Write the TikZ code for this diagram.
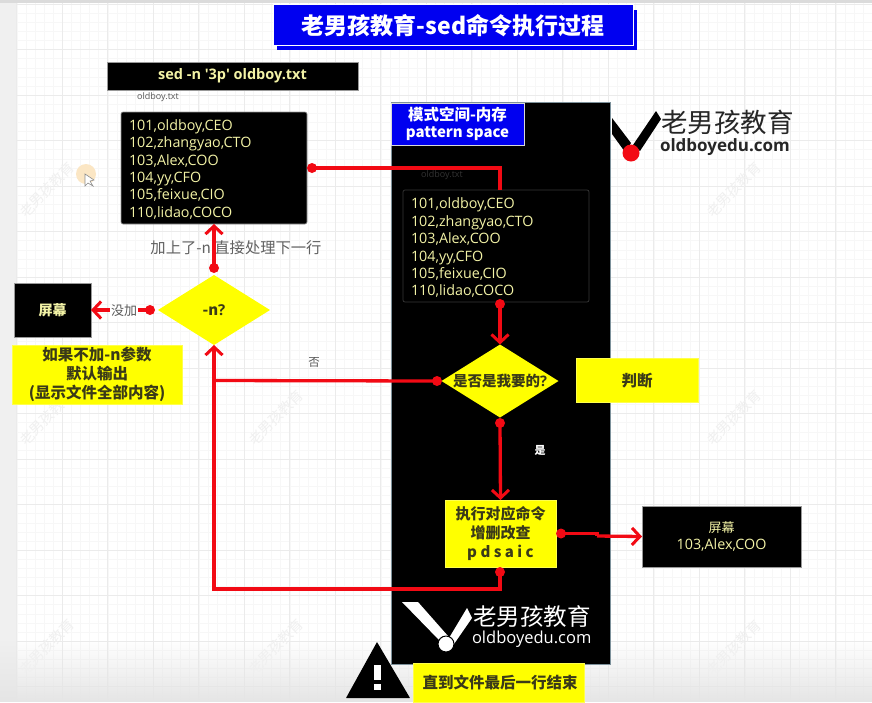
\documentclass[tikz,border=0pt]{standalone}
\usepackage{fontspec}
\setmainfont{Noto Sans CJK SC}
\newfontfamily\cjkf{Noto Sans CJK SC}
\newfontfamily\latinf{Open Sans}
\usetikzlibrary{shapes.geometric,arrows.meta,calc,fadings}
\definecolor{softy}{HTML}{F3F3A6}
\definecolor{inky}{HTML}{3A3A18}
\definecolor{redl}{HTML}{F20A14}
\definecolor{bluep}{HTML}{0000F0}
\definecolor{puryellow}{HTML}{FFFF00}
\definecolor{softorange}{HTML}{FBE6C4}
\tikzset{
  x=1pt,y=-1pt,
  every node/.style={inner sep=0pt,outer sep=0pt},
  blackbox/.style={draw=#1,line width=0.6pt,fill=black,text=softy,align=center,anchor=north west},
  blackbox/.default=gray!80,
  yellowbox/.style={draw=puryellow!70!white,line width=0.6pt,fill=puryellow,text=inky,font=\bfseries\fontsize{15.5}{19}\selectfont,align=center,anchor=north west},
  listtext/.style={text=softy,align=left,anchor=north west,font=\latinf\fontsize{14.3}{17.4}\selectfont},
  choice/.style={diamond,fill=puryellow,aspect=1.6},
  reddot/.style={circle,fill=redl,minimum size=10pt},
  link/.style={draw=redl,line width=3.3pt},
  arrowlink/.style={link,-{Straight Barb[length=8pt,width=17pt,line width=3pt]}},
  wmark/.style={rotate=45,text=black!6,font=\fontsize{14}{14}\selectfont},
  glabel/.style={text=black!65},
}
\begin{document}
\begin{tikzpicture}
\useasboundingbox (0,0) rectangle (872,702);
% background
\fill[white] (0,0) rectangle (872,702);
\foreach \i in {0,...,93}{\draw[black!3,line width=0.4pt] ({16.7+9.1*\i},2)--({16.7+9.1*\i},702);}
\foreach \i in {0,...,77}{\draw[black!3,line width=0.4pt] (16,{4+9.1*\i})--(872,{4+9.1*\i});}
\foreach \i in {0,...,18}{\draw[black!8,line width=0.5pt] ({16.7+45.5*\i},2)--({16.7+45.5*\i},702);}
\foreach \i in {0,...,15}{\draw[black!8,line width=0.5pt] (16,{4+45.5*\i})--(872,{4+45.5*\i});}
\fill[black!6] (0,0) rectangle (16,702);
\fill[black!14] (0,0) rectangle (872,2.5);
\fill[black!10,path fading=north] (0,640) rectangle (872,702);
% watermarks
\foreach \p/\q in {47/190,47/418,276/418,47/647,276/647,734/190,734/418,734/648}
  \node[wmark] at (\p,\q) {老男孩教育};
% cursor highlight
\fill[softorange] (86,174) circle (10);
\draw[black!45,fill=white,line width=0.6pt] (85,174)--(85,186)--(88,183)--(93,186)--(90,181)--(94,180)--cycle;
% title
\fill[bluep] (277,10) rectangle (637,50);
\draw[white,line width=0.8pt,fill=bluep] (273,4) rectangle (633,45);
\node[text=white,font=\bfseries\fontsize{23}{26}\selectfont] (title) at (453,26) {老男孩教育-sed命令执行过程};
% command
\node[blackbox,minimum width=251pt,minimum height=28pt,font=\latinf\bfseries\fontsize{14.5}{16}\selectfont] (cmd) at (107,62) {sed -n \char39 3p\char39\ oldboy.txt};
\node[glabel,font=\latinf\fontsize{9}{10}\selectfont] (fname) at (158,97) {oldboy.txt};
% file box
\node[blackbox,rounded corners=2pt,minimum width=186pt,minimum height=112pt] (file) at (121,112) {};
\node[listtext] (filetext) at (129,119.5) {101,oldboy,CEO\\102,zhangyao,CTO\\103,Alex,COO\\104,yy,CFO\\105,feixue,CIO\\110,lidao,COCO};
% main panel
\node[blackbox=black!30!cyan!30!gray,minimum width=219pt,minimum height=562pt] (panel) at (391,102) {};
\node[draw=black!15,line width=.6pt,fill=bluep,text=white,font=\bfseries\fontsize{15.5}{18.5}\selectfont,align=center,anchor=north west,minimum width=133pt,minimum height=42pt] (pattern) at (391,103) {\raisebox{-2pt}{模式空间-内存}\\{\fontsize{15}{18.5}\selectfont pattern space}};
\node[text=black!80!white,font=\latinf\fontsize{9}{10}\selectfont] (innername) at (442,175) {oldboy.txt};
\node[draw=black!78!white,fill=black,rounded corners=2pt,line width=.7pt,anchor=north west,minimum width=186pt,minimum height=112pt] (inner) at (403,190) {};
\node[listtext] (innertext) at (411,198) {101,oldboy,CEO\\102,zhangyao,CTO\\103,Alex,COO\\104,yy,CFO\\105,feixue,CIO\\110,lidao,COCO};
% decisions
\node[choice,minimum width=117pt,minimum height=73pt,label={[text=inky,font=\bfseries\fontsize{14.5}{18}\selectfont]center:是否是我要的{\latinf ?}}] (judge) at (500,381) {};
\node[yellowbox,minimum width=122pt,minimum height=44pt] (judgenote) at (576,358.5) {判断};
\node[choice,minimum width=112pt,minimum height=70pt,label={[text=inky,font=\bfseries\fontsize{15}{18}\selectfont]center:-n{\latinf ?}}] (nq) at (214,310) {};
% exec
\node[yellowbox,minimum width=111pt,minimum height=67pt,font=\bfseries\fontsize{15}{19}\selectfont] (exec) at (445,500) {执行对应命令\\增删改查\\p d s a i c};
\node[blackbox,minimum width=159pt,minimum height=61pt,font=\latinf\fontsize{14.3}{17.5}\selectfont] (scr2) at (642,506) {{\cjkf\fontsize{13}{17.5}\selectfont 屏幕}\\103,Alex,COO};
% left screen
\node[blackbox,minimum width=77pt,minimum height=54pt,font=\bfseries\fontsize{14}{16}\selectfont] (scr1) at (14,283) {屏幕};
\node[yellowbox,minimum width=170pt,minimum height=59pt] (note) at (12,345) {如果不加-n参数\\默认输出\\(显示文件全部内容)};
% labels under lines
\node[text=black!62,font=\fontsize{15.3}{18}\selectfont] (addn) at (236,248) {加上了-n 直接处理下一行};
\node[glabel,font=\fontsize{11.5}{13}\selectfont] (no) at (314,362) {否};
\node[text=white,font=\bfseries\fontsize{11}{13}\selectfont] (yes) at (540,450) {是};
% dots and corners
\node[reddot] (d1) at (312,168) {};
\coordinate (c1) at (500,190);
\node[reddot] (d2) at (500,304) {};
\node[reddot] (d3) at (437,381) {};
\node[reddot] (d4) at (500,423) {};
\node[reddot] (d5) at (500,572) {};
\node[reddot] (d6) at (561,533.5) {};
\node[reddot] (d7) at (214,268) {};
\node[reddot] (d8) at (150,310) {};
\coordinate (c2) at (597,533.5);
\coordinate (c3) at (597,536);
\coordinate (c5) at (500,589);
\coordinate (c6) at (214,589);
\coordinate (c7) at (214,380.5);
% connectors
\draw[link,line join=miter] (d1.center) -| (c1);
\draw[arrowlink] (d2.center) -- (judge.north);
\draw[link] (d3.center) -- (c7);
\draw[arrowlink] (d4.center) -- (exec.north);
\draw[link,line join=miter] (d5.center) -- (c5) -- (c6) -- (c7);
\draw[arrowlink] (c7) -- (nq.south);
\draw[link] (d6.center) -- (c2) -- (c3);
\draw[arrowlink] (c3) -- (scr2.west);
\draw[arrowlink] (d7.center) -- (file.south);
\draw[arrowlink] (d8.center) -- (scr1.east |- d8);
\node[fill=white,glabel,inner xsep=1pt,font=\fontsize{13}{15}\selectfont] (nadd) at (124,311) {没加};
% top logo
\fill[black] (612,118)--(612,134)--(625,152)--(631,143)--cycle;
\fill[black] (656,111)--(661,119)--(640,151)--(633,145)--cycle;
\fill[redl] (631,153) circle (8.5);
\node[text=black!85,font=\fontsize{26.5}{28}\selectfont,anchor=west] (logotop) at (661,122) {老男孩教育};
\node[text=black!85,font=\latinf\bfseries\fontsize{17}{20}\selectfont,anchor=west] (urltop) at (660,147) {oldboyedu.com};
% bottom logo
\fill[white] (402,602)--(418,602)--(448,636)--(440,641)--cycle;
\fill[white] (467,608)--(472,618)--(454,644)--(449,638)--cycle;
\draw[black,fill=white,line width=1pt] (446,644) circle (8);
\node[text=white,font=\fontsize{23.5}{26}\selectfont,anchor=west] (logobot) at (473,617) {老男孩教育};
\node[text=white,font=\latinf\fontsize{16.5}{20}\selectfont,anchor=west] (urlbot) at (472,639) {oldboyedu.com};
% warning
\node[yellowbox,minimum width=171pt,minimum height=39pt] (endnote) at (413,663) {\hspace{3pt}直到文件最后一行结束};
\fill[black,rounded corners=.5pt] (377,642)--(410,698)--(346,698)--cycle;
\fill[white] (373.5,665) rectangle (381,680);
\fill[white] (373.5,684) rectangle (381,690);
\end{tikzpicture}
\end{document}
